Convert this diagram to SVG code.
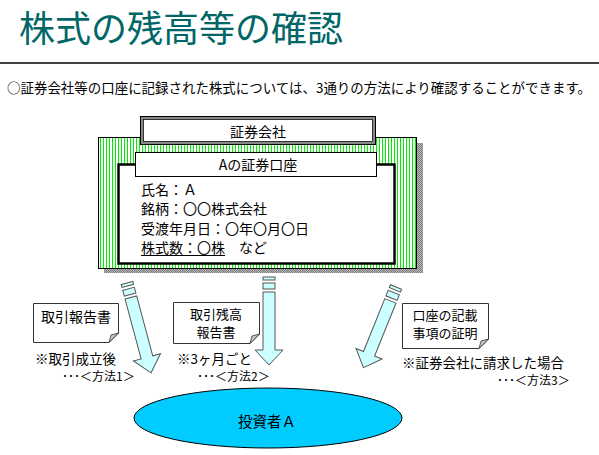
<svg xmlns="http://www.w3.org/2000/svg" width="599" height="455" viewBox="0 0 599 455">
<style>
text{font-family:"Noto Sans CJK JP","Noto Sans",sans-serif;fill:#000}
.t14{font-size:14px}
.t13{font-size:13.5px}
.tn{font-size:13px}
.t12{font-size:12px}
.arrow{fill:#ccffff;stroke:#555;stroke-width:1;stroke-linejoin:miter}
.note{fill:#fff;stroke:#333;stroke-width:1}
.fold{fill:#c8c8c8;stroke:#333;stroke-width:0.8}
</style>
<defs>
<pattern id="hatch" width="3" height="4" patternUnits="userSpaceOnUse">
<rect width="3" height="4" fill="#fff"/>
<rect x="1" width="1" height="4" fill="#00ee00"/>
</pattern>
<pattern id="dots" width="2" height="2" patternUnits="userSpaceOnUse">
<rect width="2" height="2" fill="#b4b4b4"/>
<rect width="1" height="1" fill="#808080"/>
<rect x="1" y="1" width="1" height="1" fill="#808080"/>
</pattern>
</defs>
<rect width="599" height="455" fill="#fff"/>

<g id="header">
<text x="19" y="42" style="font-size:36px;fill:#006666">株式の残高等の確認</text>
<line x1="0" y1="63" x2="599" y2="63" stroke="#000" stroke-width="1.5"/>
<text x="7" y="93" style="font-size:13.5px" textLength="584" lengthAdjust="spacingAndGlyphs">○証券会社等の口座に記録された株式については、3通りの方法により確認することができます。</text>
</g>

<g id="company">
<rect x="104" y="143" width="319" height="130" fill="url(#dots)"/>
<rect x="98.5" y="137.5" width="318" height="131" fill="url(#hatch)" stroke="#000" stroke-width="1"/>
<rect x="140.5" y="116.5" width="235" height="28" fill="#fff" stroke="#000" stroke-width="1"/>
<rect x="142" y="118" width="232" height="25" fill="none" stroke="#888" stroke-width="2"/>
<rect x="143.5" y="119.5" width="229" height="22" fill="none" stroke="#000" stroke-width="0.8"/>
<text class="t14" x="258" y="137" text-anchor="middle">証券会社</text>
</g>

<g id="account">
<rect x="118.5" y="164.5" width="276" height="99" fill="#fff" stroke="#000" stroke-width="2.5"/>
<rect x="135.5" y="152.5" width="241" height="24" fill="#fff" stroke="#000" stroke-width="1"/>
<text class="t14" x="258" y="170" text-anchor="middle">Aの証券口座</text>
<text class="t14" x="141" y="195">氏名：Ａ</text>
<text class="t14" x="141" y="214">銘柄：〇〇株式会社</text>
<text class="t14" x="141" y="234">受渡年月日：〇年〇月〇日</text>
<text class="t14" x="141" y="253">株式数：〇株　など</text>
<line x1="141" y1="255.5" x2="225" y2="255.5" stroke="#000" stroke-width="1"/>
</g>

<g id="connectors">
<g transform="translate(127,283) rotate(-15)">
<rect class="arrow" x="-6" y="0" width="12" height="3"/>
<rect class="arrow" x="-6" y="6" width="12" height="6"/>
<path class="arrow" d="M-6,15 H6 V77 H14 L0,93 L-14,77 H-6 Z"/>
</g>
<g transform="translate(269,277)">
<rect class="arrow" x="-6" y="0" width="12" height="3"/>
<rect class="arrow" x="-6" y="6" width="12" height="6"/>
<path class="arrow" d="M-6,15 H6 V73 H14 L0,88 L-14,73 H-6 Z"/>
</g>
<g transform="translate(396,287) rotate(22)">
<rect class="arrow" x="-6" y="0" width="12" height="3"/>
<rect class="arrow" x="-6" y="6" width="12" height="6"/>
<path class="arrow" d="M-6,15 H6 V72 H14 L0,87 L-14,72 H-6 Z"/>
</g>
</g>

<g id="method1">
<path class="note" d="M33.5,303.5 H118.5 V333 L109,342.5 H33.5 Z"/>
<path class="fold" d="M109,342.5 L111,335 L118.5,333 Z"/>
<text class="t14" x="76" y="322" text-anchor="middle">取引報告書</text>
<text class="t13" x="35" y="364">※取引成立後</text>
<text class="t12" x="62" y="381">･･･＜方法1＞</text>
</g>

<g id="method2">
<path class="note" d="M173.5,302.5 H259.5 V334 L250,343.5 H173.5 Z"/>
<path class="fold" d="M250,343.5 L252,336 L259.5,334 Z"/>
<text class="tn" x="216" y="319" text-anchor="middle">取引残高</text>
<text class="tn" x="216" y="337" text-anchor="middle">報告書</text>
<text class="t13" x="177" y="364">※3ヶ月ごと</text>
<text class="t12" x="197" y="381">･･･＜方法2＞</text>
</g>

<g id="method3">
<path class="note" d="M402.5,303.5 H488.5 V339 L479,348.5 H402.5 Z"/>
<path class="fold" d="M479,348.5 L481,341 L488.5,339 Z"/>
<text class="tn" x="445" y="320" text-anchor="middle">口座の記載</text>
<text class="tn" x="445" y="338" text-anchor="middle">事項の証明</text>
<text class="t13" x="402" y="368">※証券会社に請求した場合</text>
<text class="t12" x="497" y="385">･･･＜方法3＞</text>
</g>

<g id="investor">
<ellipse cx="268" cy="418" rx="134" ry="30" fill="#00ccff" stroke="#000" stroke-width="1"/>
<text x="267" y="427" text-anchor="middle" style="font-size:14.5px">投資者Ａ</text>
</g>
</svg>
